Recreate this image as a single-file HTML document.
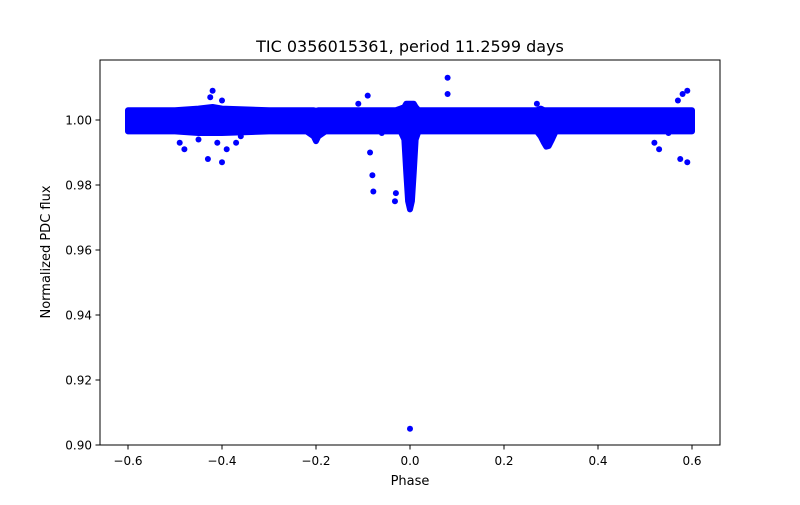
<!DOCTYPE html>
<html><head><meta charset="utf-8"><style>
body{margin:0;background:#fff;font-family:"Liberation Sans","DejaVu Sans",sans-serif}
svg text{font-family:"DejaVu Sans","Liberation Sans",sans-serif;fill:#000}
</style></head><body>
<svg id="chart" width="800" height="500">
<rect width="800" height="500" fill="#fff"/>
<text x="410" y="52" font-size="16" text-anchor="middle">TIC 0356015361, period 11.2599 days</text>
<g id="plot"></g>
<rect x="100" y="60" width="620" height="385" fill="none" stroke="#000" stroke-width="1"/>
<g id="axes"></g>
<text x="410" y="485" font-size="13" text-anchor="middle">Phase</text>
<text transform="translate(50,252) rotate(-90)" font-size="13" text-anchor="middle">Normalized PDC flux</text>
</svg>
<script>
const envPhase=[-0.6,-0.5,-0.45,-0.42,-0.4,-0.3,-0.22,-0.205,-0.2,-0.195,-0.18,-0.1,-0.03,-0.02,-0.012,-0.008,-0.004,0,0.004,0.008,0.012,0.018,0.03,0.1,0.2,0.27,0.278,0.285,0.29,0.295,0.302,0.31,0.4,0.5,0.6];
const envUpper=[1.003,1.003,1.0035,1.004,1.0035,1.003,1.003,1.003,1.0028,1.003,1.003,1.003,1.003,1.0035,1.004,1.005,1.005,1.005,1.005,1.005,1.004,1.003,1.003,1.003,1.003,1.003,1.0035,1.003,1.003,1.003,1.003,1.003,1.003,1.003,1.003];
const envLower=[0.9965,0.9965,0.996,0.996,0.996,0.9965,0.9965,0.995,0.9935,0.995,0.9965,0.9965,0.9965,0.9965,0.994,0.984,0.975,0.9725,0.975,0.984,0.994,0.9965,0.9965,0.9965,0.9965,0.9965,0.995,0.993,0.9918,0.992,0.994,0.9965,0.9965,0.9965,0.9965];
const outPhase=[-0.42,-0.425,-0.40,-0.43,-0.40,-0.41,-0.39,-0.48,-0.49,-0.37,-0.09,-0.085,-0.08,-0.078,-0.06,-0.03,-0.032,0.08,0.08,0.0,0.58,0.59,0.575,0.59,0.52,0.53,0.55,-0.11,-0.45,-0.36,0.27,0.57];
const outFlux=[1.009,1.007,1.006,0.988,0.987,0.993,0.991,0.991,0.993,0.993,1.0075,0.990,0.983,0.978,0.996,0.9775,0.975,1.013,1.008,0.905,1.008,1.009,0.988,0.987,0.993,0.991,0.996,1.005,0.994,0.995,1.005,1.006];
const xTicks=[-0.6,-0.4,-0.2,0.0,0.2,0.4,0.6];
const xTickLabels=["−0.6","−0.4","−0.2","0.0","0.2","0.4","0.6"];
const yTicks=[0.90,0.92,0.94,0.96,0.98,1.00];
const yTickLabels=["0.90","0.92","0.94","0.96","0.98","1.00"];
const X=p=>410+p*470;
const Y=f=>120+(1-f)*3250;
const NS="http://www.w3.org/2000/svg";
const plot=document.getElementById('plot'),axes=document.getElementById('axes');
function mk(tag,attrs,parent){const e=document.createElementNS(NS,tag);for(const k in attrs)e.setAttribute(k,attrs[k]);parent.appendChild(e);return e;}
let pts=[];
for(let i=0;i<envPhase.length;i++)pts.push(X(envPhase[i])+","+Y(envUpper[i]));
for(let i=envPhase.length-1;i>=0;i--)pts.push(X(envPhase[i])+","+Y(envLower[i]));
const band=mk('polygon',{points:pts.join(' '),fill:'#0000ff',stroke:'#0000ff','stroke-width':6,'stroke-linejoin':'round'},plot);


for(let i=0;i<outPhase.length;i++){
 const c=mk('circle',{cx:X(outPhase[i]),cy:Y(outFlux[i]),r:3,fill:'#0000ff'},plot);
 
 
}
xTicks.forEach((t,i)=>{
 mk('line',{x1:X(t),x2:X(t),y1:445,y2:449.5,stroke:'#000'},axes);
 const tx=mk('text',{x:X(t),y:465,'font-size':12,'text-anchor':'middle'},axes);
 tx.textContent=xTickLabels[i];
 
 
});
yTicks.forEach((t,i)=>{
 mk('line',{x1:95.5,x2:100,y1:Y(t),y2:Y(t),stroke:'#000'},axes);
 const tx=mk('text',{x:92,y:Y(t)+4.5,'font-size':12,'text-anchor':'end'},axes);
 tx.textContent=yTickLabels[i];
 
 
});
</script>
</body></html>
